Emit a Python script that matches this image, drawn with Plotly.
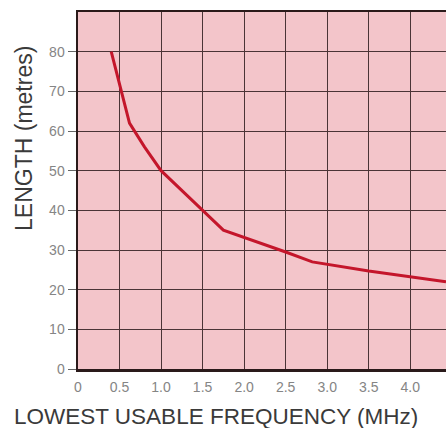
import plotly.graph_objects as go

freq_mhz = [0.40, 0.62, 0.80, 1.00, 1.40, 1.75, 2.50, 2.82, 3.50, 4.00, 4.43]
length_m = [80.0, 62.0, 56.0, 50.0, 42.0, 35.0, 29.5, 27.0, 24.7, 23.2, 22.0]

x_ticks = [0, 0.5, 1.0, 1.5, 2.0, 2.5, 3.0, 3.5, 4.0]
x_tick_text = ["0", "0.5", "1.0", "1.5", "2.0", "2.5", "3.0", "3.5", "4.0"]
y_ticks = [0, 10, 20, 30, 40, 50, 60, 70, 80]

fig = go.Figure()
fig.add_trace(go.Scatter(
    x=freq_mhz, y=length_m, mode="lines",
    line=dict(color="#c4162b", width=3),
    hoverinfo="skip", showlegend=False, cliponaxis=True,
))

fig.update_layout(
    width=446, height=428,
    margin=dict(l=78, r=0, t=12, b=59),
    paper_bgcolor="white",
    plot_bgcolor="#f3c5ca",
    font=dict(family="Liberation Sans, Arial, sans-serif", color="#808080"),
    showlegend=False,
)

fig.update_xaxes(
    range=[0, 4.43], tickvals=x_ticks, ticktext=x_tick_text,
    showgrid=True, gridcolor="#4a3436", gridwidth=1,
    showline=True, linecolor="#2a1a1a", linewidth=2.5, mirror=True,
    ticks="outside", ticklen=4, tickcolor="rgba(0,0,0,0)",
    tickfont=dict(size=14, color="#858585"),
    zeroline=False, fixedrange=True,
)
fig.update_yaxes(
    range=[0, 90], tickvals=y_ticks,
    showgrid=True, gridcolor="#4a3436", gridwidth=1,
    showline=True, linecolor="#2a1a1a", linewidth=2.5,
    ticks="outside", ticklen=8, tickcolor="#666666",
    tickfont=dict(size=14, color="#858585"),
    zeroline=False, fixedrange=True,
)

fig.add_annotation(
    text="LOWEST USABLE FREQUENCY (MHz)", xref="paper", yref="paper",
    x=-0.18, y=-0.133, xanchor="left", yanchor="middle", showarrow=False,
    font=dict(size=22.5, color="#3a3a3a"),
)
fig.add_annotation(
    text="LENGTH (metres)", xref="paper", yref="paper",
    x=-0.147, y=0.647, xanchor="center", yanchor="middle", showarrow=False,
    textangle=-90, font=dict(size=23, color="#3a3a3a"),
)

fig.write_html(
    "out.html",
    config={"displayModeBar": False, "staticPlot": True},
    post_script="document.body.style.margin='0';document.body.style.overflow='hidden';",
)
